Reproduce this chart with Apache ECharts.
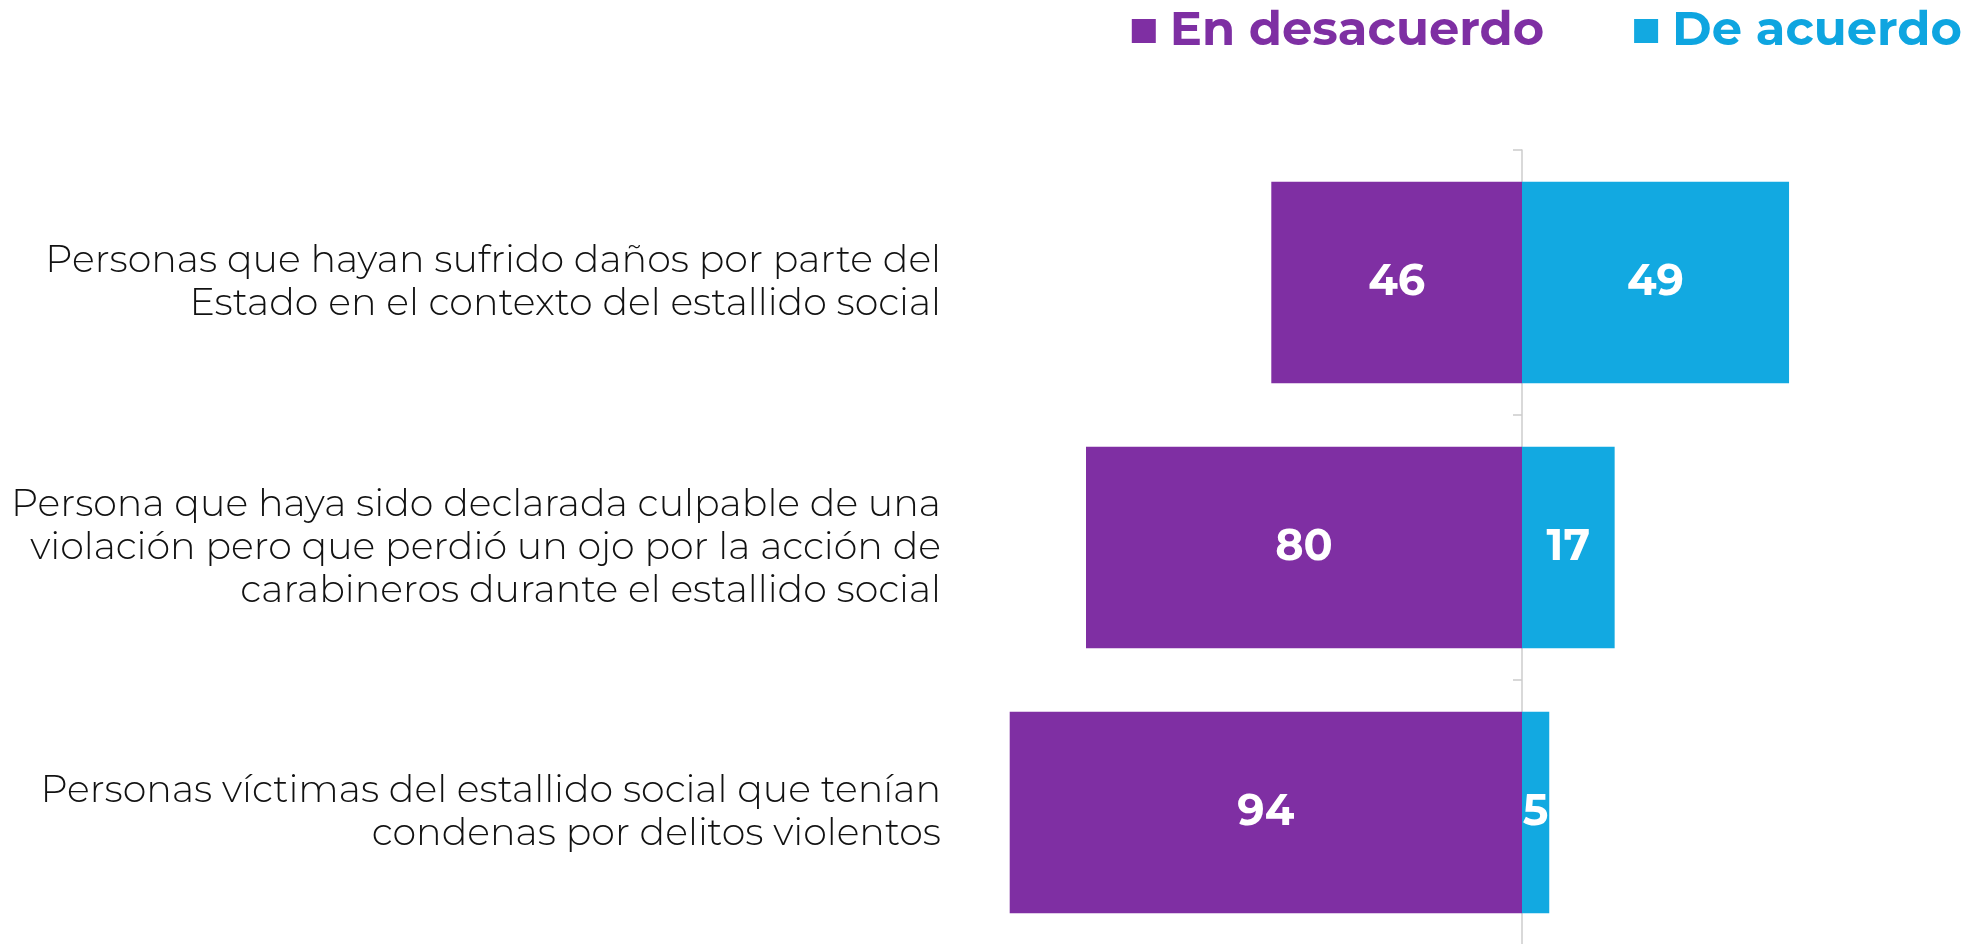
<!DOCTYPE html>
<html>
<head>
<meta charset="utf-8">
<script src="https://cdn.jsdelivr.net/npm/echarts@6/dist/echarts.min.js"></script>
<style>
html,body{margin:0;padding:0;background:#fff;}
#chart{width:1967px;height:944px;}
</style>
</head>
<body>
<div id="chart"></div>
<script>
const categories = [
  "Personas que hayan sufrido daños por parte del\nEstado en el contexto del estallido social",
  "Persona que haya sido declarada culpable de una\nviolación pero que perdió un ojo por la acción de\ncarabineros durante el estallido social",
  "Personas víctimas del estallido social que tenían\ncondenas por delitos violentos"
];
const desacuerdo = [46, 80, 94];
const acuerdo = [49, 17, 5];
const seriesNames = ["En desacuerdo", "De acuerdo"];
const colors = ["#7F2FA3", "#12A9E1"];

const chart = echarts.init(document.getElementById('chart'), null, {renderer: 'canvas'});
const labelStyle = {
  show: true,
  position: 'inside',
  color: '#ffffff',
  fontFamily: 'Montserrat, "DejaVu Sans", sans-serif',
  fontWeight: 'bold',
  fontSize: 43,
  formatter: p => Math.abs(p.value)
};
chart.setOption({
  animation: false,
  backgroundColor: '#ffffff',
  legend: {
    top: 2,
    right: 0,
    itemGap: 90,
    itemWidth: 24,
    itemHeight: 24,
    icon: 'rect',
    data: [
      {name: seriesNames[0], textStyle: {color: '#7E2FA3'}},
      {name: seriesNames[1], textStyle: {color: '#0EA5E0'}}
    ],
    textStyle: {
      fontFamily: 'Montserrat, "DejaVu Sans", sans-serif',
      fontWeight: 'bold',
      fontSize: 48,
      padding: [0, 0, 0, 9]
    }
  },
  grid: {left: 977, width: 981, top: 150, height: 795, containLabel: false, outerBoundsMode: 'none'},
  xAxis: {
    type: 'value',
    min: -100,
    max: 80,
    show: false,
    splitLine: {show: false}
  },
  yAxis: {
    type: 'category',
    inverse: true,
    data: categories,
    axisLine: {show: true, lineStyle: {color: '#cccccc', width: 1.5}},
    axisTick: {show: true, length: 9, lineStyle: {color: '#cccccc', width: 1.5}},
    axisLabel: {
      margin: 36,
      color: '#111111',
      fontFamily: 'Montserrat, "DejaVu Sans", sans-serif',
      fontWeight: 300,
      fontSize: 38,
      lineHeight: 43
    }
  },
  series: [
    {
      name: seriesNames[0],
      type: 'bar',
      stack: 'total',
      barWidth: '76%',
      itemStyle: {color: colors[0]},
      label: labelStyle,
      data: desacuerdo.map(v => -v)
    },
    {
      name: seriesNames[1],
      type: 'bar',
      stack: 'total',
      barWidth: '76%',
      itemStyle: {color: colors[1]},
      label: labelStyle,
      data: acuerdo
    }
  ]
});
</script>
</body>
</html>
